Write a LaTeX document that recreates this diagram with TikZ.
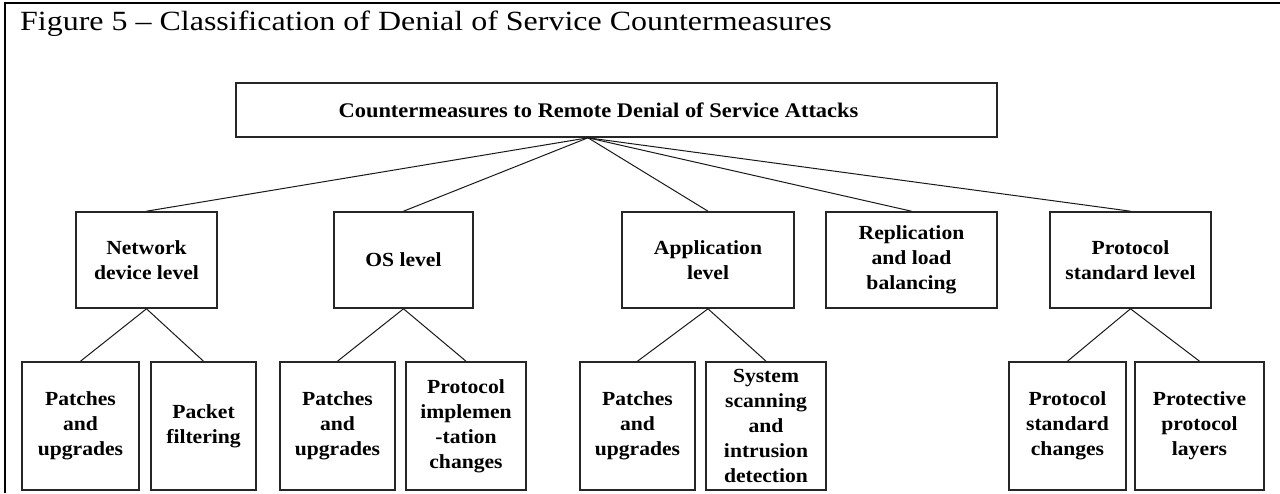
\documentclass[tikz,border=0pt]{standalone}
\usepackage{fontspec}
\setmainfont{Liberation Serif}[FakeStretch=1.15]
\newfontfamily\boxfam{Liberation Serif}[FakeStretch=1.08]
\usetikzlibrary{calc}
\newcommand{\titlefont}{\fontsize{27.8}{34}\selectfont}
\newcommand{\boxfont}{\boxfam\fontsize{20}{25}\selectfont\bfseries}
\newcommand{\rootfont}{\boxfam\fontsize{20.8}{25}\selectfont\bfseries}
\begin{document}
\begin{tikzpicture}[x=1pt,y=-1pt,
  frameline/.style={line width=1.5pt, black},
  box/.style={draw=black!85, line width=1.6pt, inner sep=0pt, align=center, font=\boxfont},
  lvlone/.style={box, minimum height=96pt},
  lvltwo/.style={box, minimum height=128pt},
  link/.style={line width=1pt, black!90}]
\useasboundingbox (0,0) rectangle (1280,493);
% outer frame
\draw[frameline] (5,493) -- (5,3) -- (1280,3);
% title
\node[anchor=base west, inner sep=0pt, font=\titlefont] (title) at (20,30)
  {Figure 5 \textendash{} Classification of Denial of Service Countermeasures};
% root
\node[box, font=\rootfont, minimum width=761pt, minimum height=54pt] (top) at (616.5,110)
  {Countermeasures to Remote Denial of Service Attacks\hspace*{36pt}};
\coordinate (hub) at ([xshift=-28.5pt]top.south);
% first level
\node[lvlone, minimum width=141pt] (net)  at (146.5,260) {Network\\device level};
\node[lvlone, minimum width=139pt] (os)   at (403.5,260) {OS level};
\node[lvlone, minimum width=172pt] (app)  at (708,260)   {Application\\level};
\node[lvlone, minimum width=171pt] (rep)  at (911.5,260) {Replication\\and load\\balancing};
\node[lvlone, minimum width=161pt] (prot) at (1130.5,260) {Protocol\\standard level};
% second level
\node[lvltwo, minimum width=117pt] (netA)  at (80.5,426)  {Patches\\and\\upgrades};
\node[lvltwo, minimum width=105pt] (netB)  at (203.5,426) {Packet\\filtering};
\node[lvltwo, minimum width=115pt] (osA)   at (337.5,426) {Patches\\and\\upgrades};
\node[lvltwo, minimum width=120pt] (osB)   at (466,426)   {Protocol\\implemen\\-tation\\changes};
\node[lvltwo, minimum width=115pt] (appA)  at (637.5,426) {Patches\\and\\upgrades};
\node[lvltwo, minimum width=120pt] (appB)  at (766,426)   {System\\scanning\\and\\intrusion\\detection};
\node[lvltwo, minimum width=117pt] (protA) at (1067.5,426) {Protocol\\standard\\changes};
\node[lvltwo, minimum width=129pt] (protB) at (1199.5,426) {Protective\\protocol\\layers};
% connectors
\foreach \n in {net,os,app,rep,prot}
  \draw[link] (hub) -- (\n.north);
\draw[link] (net.south) -- (netA.north);
\draw[link] (net.south) -- (netB.north);
\draw[link] (os.south) -- (osA.north);
\draw[link] (os.south) -- (osB.north);
\draw[link] (app.south) -- (appA.north);
\draw[link] (app.south) -- (appB.north);
\draw[link] (prot.south) -- (protA.north);
\draw[link] (prot.south) -- (protB.north);
\end{tikzpicture}
\end{document}
